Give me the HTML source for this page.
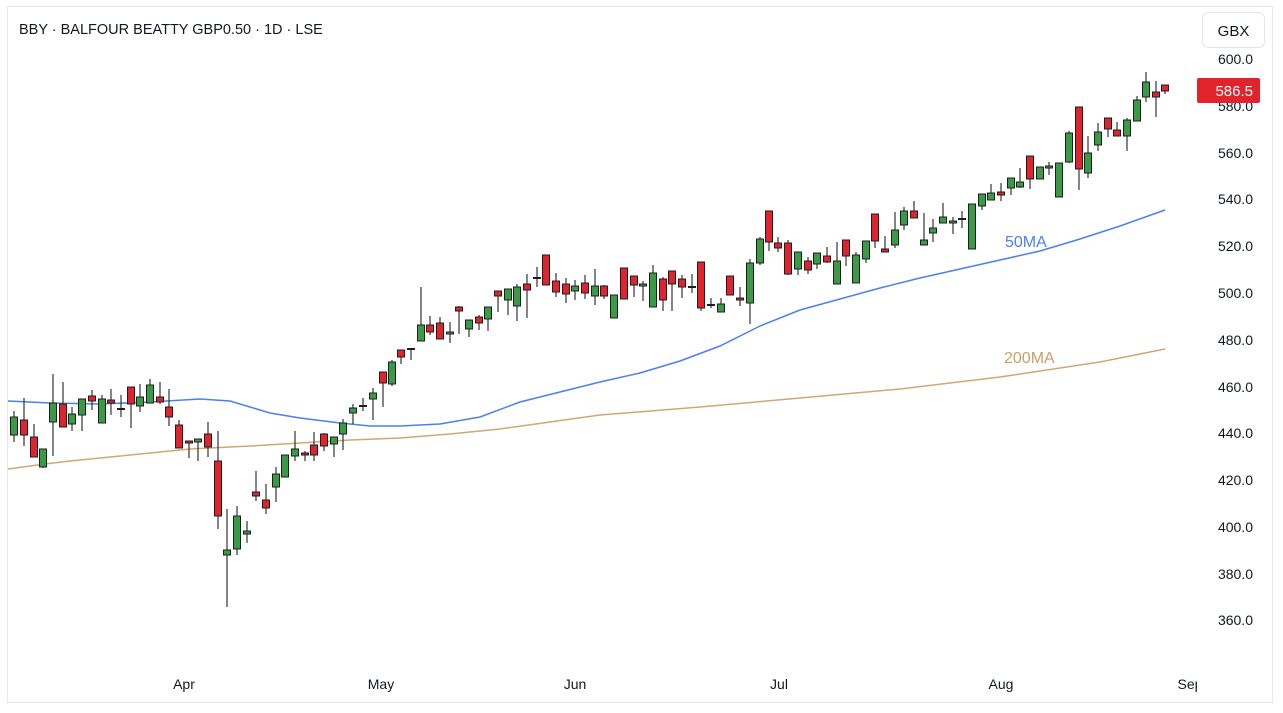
<!DOCTYPE html>
<html><head><meta charset="utf-8"><style>
html,body{margin:0;padding:0;background:#fff;width:1283px;height:713px;overflow:hidden}
svg{display:block;font-family:"Liberation Sans","DejaVu Sans",sans-serif}
</style></head><body>
<svg width="1283" height="713" viewBox="0 0 1283 713" xmlns="http://www.w3.org/2000/svg">
<rect x="7.5" y="6.5" width="1265" height="696" fill="#fff" stroke="#e6e8ee"/>
<text x="19" y="34" font-size="14.5" fill="#131722">BBY · BALFOUR BEATTY GBP0.50 · 1D · LSE</text>
<rect x="1202.5" y="12.5" width="62" height="35" rx="6" fill="#fff" stroke="#e3e5ea"/>
<text x="1233.5" y="36" font-size="15" fill="#131722" text-anchor="middle">GBX</text>
<g font-size="14" fill="#131722" text-anchor="end">
<text x="1253" y="64">600.0</text><text x="1253" y="111">580.0</text><text x="1253" y="158">560.0</text>
<text x="1253" y="204">540.0</text><text x="1253" y="251">520.0</text><text x="1253" y="298">500.0</text>
<text x="1253" y="345">480.0</text><text x="1253" y="392">460.0</text><text x="1253" y="438">440.0</text>
<text x="1253" y="485">420.0</text><text x="1253" y="532">400.0</text><text x="1253" y="579">380.0</text>
<text x="1253" y="625">360.0</text></g>
<svg x="0" y="670" width="1197" height="30"><g font-size="14" fill="#131722" text-anchor="middle">
<text x="184" y="19">Apr</text><text x="381" y="19">May</text><text x="575" y="19">Jun</text>
<text x="779" y="19">Jul</text><text x="1001" y="19">Aug</text><text x="1190" y="19">Sep</text></g></svg>
<polyline fill="none" stroke="#4c7ff0" stroke-width="1.5" points="8,401 50,403 100,404 150,402 200,399 230,401 250,407 270,413 300,418 340,423 370,426 400,426 440,424 480,417 520,402 560,392 600,382 640,373 680,361 720,346 760,326 800,310 840,299 880,288 920,278 960,269 1000,260 1040,251 1080,239 1120,226 1165,210"/>
<polyline fill="none" stroke="#cfa874" stroke-width="1.5" points="8,469 45,464 70,461 130,455 190,449 250,446 300,443 350,440 400,438 450,434 500,429 550,422 600,415 700,407 800,398 900,389 1000,377 1100,362 1165,349"/>
<text x="1005" y="247" font-size="16" fill="#4c7ff0">50MA</text>
<text x="1004" y="363" font-size="16" fill="#c9a06a">200MA</text>
<g id="c" stroke-width="1"></g>
<g stroke="#333" stroke-width="1.2">
<line x1="14" x2="14" y1="411" y2="442"/><line x1="24" x2="24" y1="398" y2="446"/><line x1="34" x2="34" y1="424" y2="457"/><line x1="43" x2="43" y1="449" y2="468"/><line x1="53" x2="53" y1="374" y2="456"/><line x1="63" x2="63" y1="382" y2="427"/><line x1="72" x2="72" y1="407" y2="431"/><line x1="82" x2="82" y1="399" y2="431"/><line x1="92" x2="92" y1="390" y2="410"/><line x1="102" x2="102" y1="395" y2="423"/><line x1="111" x2="111" y1="389" y2="415"/><line x1="121" x2="121" y1="395" y2="417"/><line x1="131" x2="131" y1="387" y2="428"/><line x1="140" x2="140" y1="384" y2="412"/><line x1="150" x2="150" y1="379" y2="403"/><line x1="160" x2="160" y1="382" y2="404"/><line x1="169" x2="169" y1="389" y2="426"/><line x1="179" x2="179" y1="420" y2="448"/><line x1="189" x2="189" y1="441" y2="458"/><line x1="198" x2="198" y1="439" y2="461"/><line x1="208" x2="208" y1="422" y2="457"/><line x1="218" x2="218" y1="431" y2="529"/><line x1="227" x2="227" y1="509" y2="607"/><line x1="237" x2="237" y1="506" y2="555"/><line x1="247" x2="247" y1="521" y2="543"/><line x1="256" x2="256" y1="471" y2="501"/><line x1="266" x2="266" y1="484" y2="514"/><line x1="276" x2="276" y1="467" y2="502"/><line x1="285" x2="285" y1="455" y2="477"/><line x1="295" x2="295" y1="431" y2="461"/><line x1="305" x2="305" y1="451" y2="461"/><line x1="314" x2="314" y1="432" y2="461"/><line x1="324" x2="324" y1="433" y2="451"/><line x1="334" x2="334" y1="437" y2="457"/><line x1="343" x2="343" y1="419" y2="450"/><line x1="353" x2="353" y1="404" y2="424"/><line x1="363" x2="363" y1="398" y2="411"/><line x1="373" x2="373" y1="388" y2="420"/><line x1="383" x2="383" y1="372" y2="407"/><line x1="392" x2="392" y1="360" y2="386"/><line x1="401" x2="401" y1="350" y2="364"/><line x1="411" x2="411" y1="349" y2="360"/><line x1="421" x2="421" y1="287" y2="341"/><line x1="430" x2="430" y1="316" y2="335"/><line x1="440" x2="440" y1="317" y2="339"/><line x1="450" x2="450" y1="322" y2="343"/><line x1="459" x2="459" y1="306" y2="334"/><line x1="469" x2="469" y1="320" y2="337"/><line x1="479" x2="479" y1="315" y2="330"/><line x1="488" x2="488" y1="307" y2="331"/><line x1="498" x2="498" y1="291" y2="312"/><line x1="508" x2="508" y1="289" y2="315"/><line x1="517" x2="517" y1="284" y2="321"/><line x1="527" x2="527" y1="274" y2="318"/><line x1="537" x2="537" y1="267" y2="287"/><line x1="546" x2="546" y1="255" y2="285"/><line x1="556" x2="556" y1="273" y2="297"/><line x1="566" x2="566" y1="278" y2="303"/><line x1="575" x2="575" y1="280" y2="300"/><line x1="585" x2="585" y1="275" y2="299"/><line x1="595" x2="595" y1="269" y2="305"/><line x1="604" x2="604" y1="285" y2="299"/><line x1="614" x2="614" y1="295" y2="318"/><line x1="624" x2="624" y1="268" y2="299"/><line x1="634" x2="634" y1="276" y2="297"/><line x1="643" x2="643" y1="281" y2="301"/><line x1="653" x2="653" y1="265" y2="307"/><line x1="663" x2="663" y1="277" y2="311"/><line x1="672" x2="672" y1="271" y2="311"/><line x1="682" x2="682" y1="275" y2="298"/><line x1="692" x2="692" y1="274" y2="293"/><line x1="701" x2="701" y1="262" y2="311"/><line x1="711" x2="711" y1="298" y2="308"/><line x1="721" x2="721" y1="298" y2="312"/><line x1="730" x2="730" y1="276" y2="295"/><line x1="740" x2="740" y1="287" y2="306"/><line x1="750" x2="750" y1="259" y2="324"/><line x1="760" x2="760" y1="237" y2="265"/><line x1="769" x2="769" y1="211" y2="251"/><line x1="778" x2="778" y1="237" y2="252"/><line x1="788" x2="788" y1="240" y2="275"/><line x1="798" x2="798" y1="252" y2="275"/><line x1="808" x2="808" y1="257" y2="274"/><line x1="817" x2="817" y1="253" y2="269"/><line x1="827" x2="827" y1="247" y2="263"/><line x1="837" x2="837" y1="242" y2="284"/><line x1="846" x2="846" y1="240" y2="266"/><line x1="856" x2="856" y1="252" y2="283"/><line x1="866" x2="866" y1="241" y2="263"/><line x1="875" x2="875" y1="214" y2="248"/><line x1="885" x2="885" y1="236" y2="252"/><line x1="895" x2="895" y1="212" y2="248"/><line x1="904" x2="904" y1="207" y2="230"/><line x1="914" x2="914" y1="201" y2="218"/><line x1="924" x2="924" y1="213" y2="245"/><line x1="933" x2="933" y1="219" y2="242"/><line x1="943" x2="943" y1="203" y2="223"/><line x1="953" x2="953" y1="217" y2="234"/><line x1="962" x2="962" y1="211" y2="228"/><line x1="972" x2="972" y1="204" y2="249"/><line x1="982" x2="982" y1="194" y2="210"/><line x1="991" x2="991" y1="184" y2="200"/><line x1="1001" x2="1001" y1="183" y2="201"/><line x1="1011" x2="1011" y1="178" y2="195"/><line x1="1020" x2="1020" y1="168" y2="188"/><line x1="1030" x2="1030" y1="156" y2="189"/><line x1="1040" x2="1040" y1="167" y2="179"/><line x1="1049" x2="1049" y1="162" y2="175"/><line x1="1059" x2="1059" y1="163" y2="197"/><line x1="1069" x2="1069" y1="131" y2="163"/><line x1="1079" x2="1079" y1="107" y2="190"/><line x1="1088" x2="1088" y1="136" y2="178"/><line x1="1098" x2="1098" y1="123" y2="151"/><line x1="1108" x2="1108" y1="118" y2="137"/><line x1="1117" x2="1117" y1="122" y2="136"/><line x1="1127" x2="1127" y1="118" y2="151"/><line x1="1137" x2="1137" y1="96" y2="121"/><line x1="1146" x2="1146" y1="72" y2="102"/><line x1="1156" x2="1156" y1="81" y2="117"/><line x1="1165" x2="1165" y1="85" y2="94"/>
</g>
<g stroke="#1e1e1e" stroke-width="1">
<g fill="#3a9a45">
<rect x="10.5" y="417" width="7" height="18"/><rect x="39.5" y="449" width="7" height="18"/><rect x="49.5" y="403" width="7" height="19"/><rect x="68.5" y="414" width="7" height="10"/><rect x="78.5" y="399" width="7" height="16"/><rect x="98.5" y="399" width="7" height="24"/><rect x="136.5" y="397" width="7" height="9"/><rect x="146.5" y="385" width="7" height="18"/><rect x="194.5" y="439" width="7" height="3"/><rect x="223.5" y="550" width="7" height="5"/><rect x="233.5" y="516" width="7" height="33"/><rect x="243.5" y="531" width="7" height="3"/><rect x="272.5" y="474" width="7" height="13"/><rect x="281.5" y="455" width="7" height="22"/><rect x="291.5" y="449" width="7" height="7"/><rect x="330.5" y="437" width="7" height="7"/><rect x="339.5" y="423" width="7" height="11"/><rect x="349.5" y="408" width="7" height="5"/><rect x="369.5" y="393" width="7" height="6"/><rect x="388.5" y="362" width="7" height="22"/><rect x="417.5" y="325" width="7" height="16"/><rect x="446.5" y="332" width="7" height="2"/><rect x="465.5" y="320" width="7" height="9"/><rect x="484.5" y="307" width="7" height="12"/><rect x="504.5" y="289" width="7" height="11"/><rect x="513.5" y="287" width="7" height="19"/><rect x="571.5" y="286" width="7" height="5"/><rect x="591.5" y="286" width="7" height="10"/><rect x="610.5" y="295" width="7" height="23"/><rect x="639.5" y="284" width="7" height="2"/><rect x="649.5" y="273" width="7" height="34"/><rect x="717.5" y="304" width="7" height="8"/><rect x="746.5" y="263" width="7" height="40"/><rect x="756.5" y="239" width="7" height="24"/><rect x="794.5" y="252" width="7" height="17"/><rect x="813.5" y="253" width="7" height="11"/><rect x="833.5" y="261" width="7" height="23"/><rect x="852.5" y="255" width="7" height="28"/><rect x="862.5" y="241" width="7" height="18"/><rect x="891.5" y="230" width="7" height="15"/><rect x="900.5" y="211" width="7" height="14"/><rect x="920.5" y="240" width="7" height="5"/><rect x="929.5" y="228" width="7" height="5"/><rect x="939.5" y="217" width="7" height="6"/><rect x="949.5" y="221" width="7" height="2"/><rect x="968.5" y="204" width="7" height="45"/><rect x="978.5" y="194" width="7" height="12"/><rect x="987.5" y="193" width="7" height="7"/><rect x="1007.5" y="178" width="7" height="10"/><rect x="1016.5" y="182" width="7" height="5"/><rect x="1036.5" y="167" width="7" height="12"/><rect x="1045.5" y="166" width="7" height="2"/><rect x="1055.5" y="163" width="7" height="34"/><rect x="1065.5" y="133" width="7" height="29"/><rect x="1084.5" y="153" width="7" height="20"/><rect x="1094.5" y="132" width="7" height="13"/><rect x="1123.5" y="120" width="7" height="16"/><rect x="1133.5" y="100" width="7" height="21"/><rect x="1142.5" y="82" width="7" height="15"/>
<rect x="117.5" y="408.5" width="7" height="1"/><rect x="359.5" y="405.5" width="7" height="1"/><rect x="407.5" y="348.5" width="7" height="1"/><rect x="533.5" y="277.5" width="7" height="1"/><rect x="688.5" y="286.5" width="7" height="1"/><rect x="707.5" y="304.5" width="7" height="1"/><rect x="958.5" y="218.5" width="7" height="1"/>
</g>
<g fill="#e0232d">
<rect x="20.5" y="420" width="7" height="15"/><rect x="30.5" y="437" width="7" height="20"/><rect x="59.5" y="404" width="7" height="23"/><rect x="88.5" y="396" width="7" height="5"/><rect x="107.5" y="400" width="7" height="3"/><rect x="127.5" y="387" width="7" height="17"/><rect x="156.5" y="397" width="7" height="5"/><rect x="165.5" y="407" width="7" height="10"/><rect x="175.5" y="425" width="7" height="23"/><rect x="185.5" y="441" width="7" height="2"/><rect x="204.5" y="434" width="7" height="13"/><rect x="214.5" y="461" width="7" height="55"/><rect x="252.5" y="492" width="7" height="4"/><rect x="262.5" y="500" width="7" height="8"/><rect x="301.5" y="453" width="7" height="2"/><rect x="310.5" y="445" width="7" height="10"/><rect x="320.5" y="434" width="7" height="12"/><rect x="379.5" y="372" width="7" height="11"/><rect x="397.5" y="350" width="7" height="7"/><rect x="426.5" y="325" width="7" height="7"/><rect x="436.5" y="323" width="7" height="16"/><rect x="455.5" y="307" width="7" height="4"/><rect x="475.5" y="317" width="7" height="6"/><rect x="494.5" y="291" width="7" height="5"/><rect x="523.5" y="284" width="7" height="6"/><rect x="542.5" y="255" width="7" height="30"/><rect x="552.5" y="281" width="7" height="11"/><rect x="562.5" y="284" width="7" height="10"/><rect x="581.5" y="283" width="7" height="10"/><rect x="600.5" y="286" width="7" height="10"/><rect x="620.5" y="268" width="7" height="31"/><rect x="630.5" y="276" width="7" height="9"/><rect x="659.5" y="279" width="7" height="21"/><rect x="668.5" y="271" width="7" height="13"/><rect x="678.5" y="279" width="7" height="8"/><rect x="697.5" y="262" width="7" height="46"/><rect x="726.5" y="276" width="7" height="19"/><rect x="736.5" y="298" width="7" height="2"/><rect x="765.5" y="211" width="7" height="31"/><rect x="774.5" y="243" width="7" height="5"/><rect x="784.5" y="243" width="7" height="31"/><rect x="804.5" y="261" width="7" height="9"/><rect x="823.5" y="256" width="7" height="6"/><rect x="842.5" y="240" width="7" height="16"/><rect x="871.5" y="214" width="7" height="27"/><rect x="881.5" y="249" width="7" height="3"/><rect x="910.5" y="211" width="7" height="7"/><rect x="997.5" y="192" width="7" height="3"/><rect x="1026.5" y="156" width="7" height="23"/><rect x="1075.5" y="107" width="7" height="62"/><rect x="1104.5" y="118" width="7" height="11"/><rect x="1113.5" y="130" width="7" height="6"/><rect x="1152.5" y="92" width="7" height="5"/><rect x="1161.5" y="85" width="7" height="6"/>
</g>
</g>
<rect x="1197" y="78" width="63" height="25" rx="2" fill="#e0232d"/>
<text x="1253" y="96" font-size="15" fill="#fff" text-anchor="end">586.5</text>
</svg>
</body></html>
